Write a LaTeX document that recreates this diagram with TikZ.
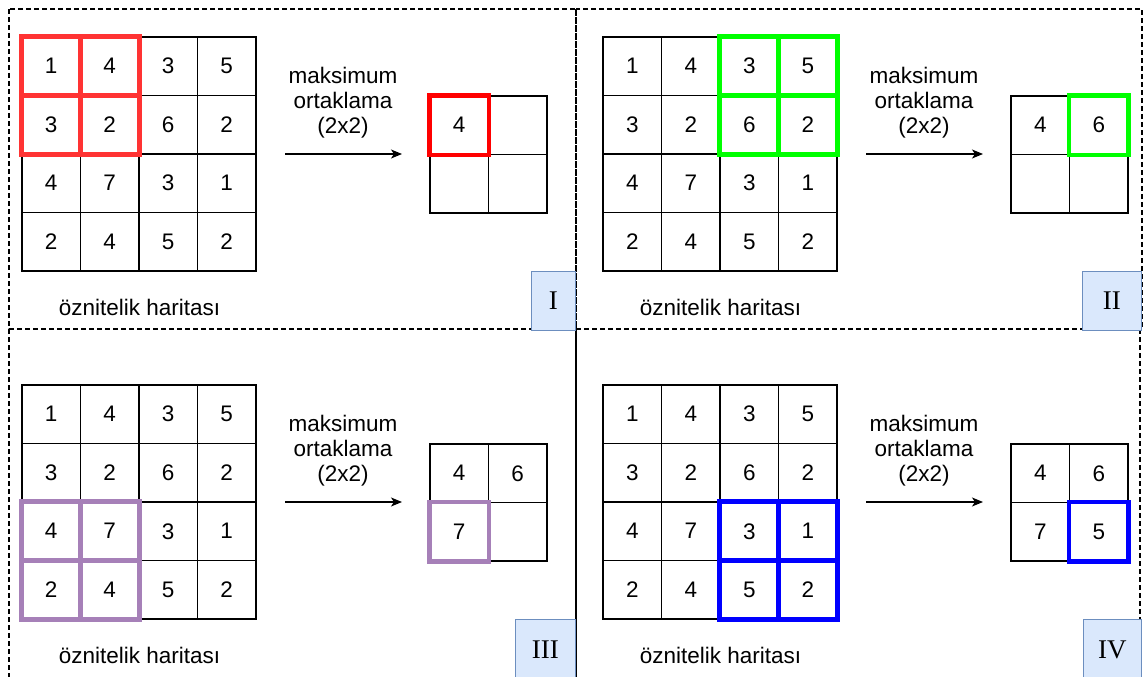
\documentclass[tikz,border=0pt]{standalone}
\usepackage{fontspec}
\setmainfont{Liberation Sans}
\newfontfamily\tagfont{Liberation Serif}
\usetikzlibrary{arrows.meta}

\definecolor{tagfill}{HTML}{DAE8FC}
\definecolor{tagdraw}{HTML}{6C8EBF}
\definecolor{softred}{HTML}{FF3333}
\definecolor{lilac}{HTML}{A680B8}

\tikzset{
  cell/.style={draw=black, line width=1.2pt, minimum size=58.5pt, inner sep=0pt,
    font=\fontsize{22.5}{25}\selectfont},
  window/.style={draw=#1, line width=4.5pt},
  frame/.style={draw=black, line width=1.3pt, dash pattern=on 5pt off 3pt},
  tag/.style={draw=tagdraw, fill=tagfill, line width=1.3pt, minimum height=59pt,
    inner sep=0pt, font=\tagfont\fontsize{27}{27}\selectfont},
  caption/.style={font=\fontsize{22.5}{25}\selectfont, align=center, inner sep=0pt},
  pool/.style={-{Stealth[length=11pt,width=9pt,inset=3pt]}, line width=1.3pt},
}

% #1 prefix, #2/#3 offset, #4 window colour, #5/#6 window column/row,
% #7 pooled values, #8 pooled highlight colour, #9 pooled cell (row-col)
\newcommand\poolpanel[9]{%
  \foreach \row [count=\r from 0] in {{1,4,3,5},{3,2,6,2},{4,7,3,1},{2,4,5,2}} {
    \foreach \v [count=\c from 0] in \row {
      \node[cell] (#1-in-\r-\c) at ({#2+51.25+58.5*\c},{#3+66.25+58.5*\r}) {\v};
    }
  }
  \foreach \v [count=\k from 0] in {#7} {
    \pgfmathtruncatemacro\orow{\k/2}
    \pgfmathtruncatemacro\ocol{mod(\k,2)}
    \node[cell] (#1-out-\orow-\ocol) at ({#2+459.25+58.5*\ocol},{#3+125.25+58.5*\orow}) {\v};
  }
  \foreach \dr in {0,1} {
    \foreach \dc in {0,1} {
      \pgfmathtruncatemacro\hr{#6+\dr}
      \pgfmathtruncatemacro\hc{#5+\dc}
      \draw[window=#4] (#1-in-\hr-\hc.north west) rectangle (#1-in-\hr-\hc.south east);
    }
  }
  \draw[window=#8] (#1-out-#9.north west) rectangle (#1-out-#9.south east);
  \coordinate (#1-from) at ({#2+285},{#3+154});
  \coordinate (#1-to) at ({#2+402},{#3+154});
  \draw[pool] (#1-from) -- (#1-to);
  \node[caption] (#1-op) at ({#2+343},{#3+103}) {maksimum\\ortaklama\\(2x2)};
  \node[caption] (#1-map) at ({#2+139.5},{#3+307}) {öznitelik haritası};
}

\begin{document}
\begin{tikzpicture}[x=1pt, y=-1pt]
  \useasboundingbox (0,0) rectangle (1143,677);
  \fill[white] (0,0) rectangle (1143,677);
  \clip (0,0) rectangle (1143,677);

  % panel borders
  \draw[frame] (9,9) rectangle (576,329);
  \draw[frame] (576,9) rectangle (1142,329);
  \draw[frame] (9,329) -- (9,690);
  \draw[frame] (1140,329) -- (1140,690);
  \draw[line width=1.3pt] (576,329) -- (576,690);

  \poolpanel{p1}{0}{0}{softred}{0}{0}{4,{},{},{}}{red}{0-0}
  \poolpanel{p2}{581}{0}{green}{2}{0}{4,6,{},{}}{green}{0-1}
  \poolpanel{p3}{0}{348}{lilac}{0}{2}{4,6,7,{}}{lilac}{1-0}
  \poolpanel{p4}{581}{348}{blue}{2}{2}{4,6,7,5}{blue}{1-1}

  % panel tags
  \node[tag, minimum width=44pt, anchor=north east] (t1) at (576,271) {I};
  \node[tag, minimum width=59pt, anchor=north east] (t2) at (1142,271) {II};
  \node[tag, minimum width=60pt, minimum height=60pt, anchor=north east] (t3) at (576,619) {III};
  \node[tag, minimum width=58pt, minimum height=60pt, anchor=north east] (t4) at (1142,619) {IV};
\end{tikzpicture}
\end{document}
